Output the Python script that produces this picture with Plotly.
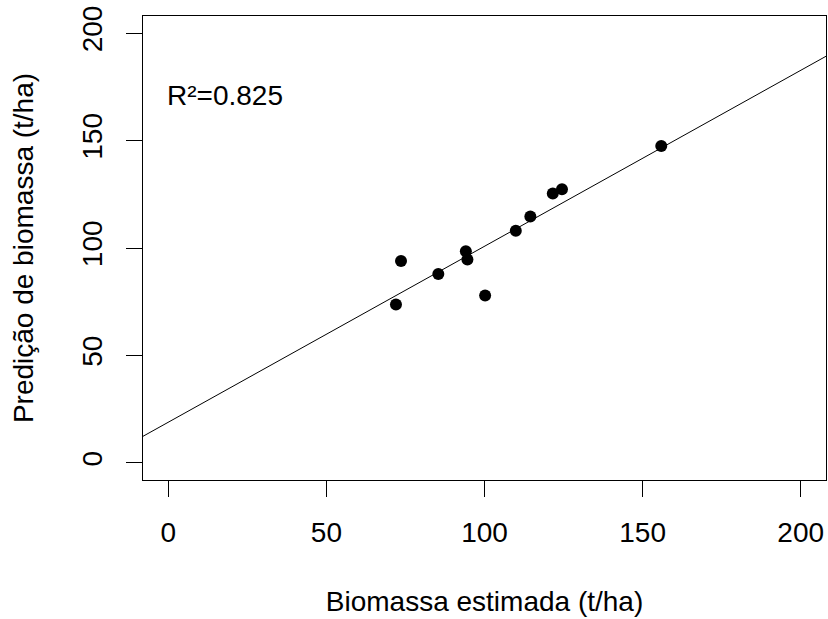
import plotly.graph_objects as go

# Data
biomassa_estimada = [72.0, 73.6, 85.4, 94.1, 94.6, 100.2, 109.9, 114.5, 121.6, 124.5, 155.9]
predicao_biomassa = [73.7, 94.0, 87.9, 98.5, 94.6, 77.9, 108.0, 114.7, 125.4, 127.4, 147.5]

# Regression line coefficients
fit_intercept = 18.9
fit_slope = 0.819
line_x = [-20, 220]
line_y = [fit_intercept + fit_slope * v for v in line_x]

r2_label = "R²=0.825"
tick_vals = [0, 50, 100, 150, 200]
tick_text = ["0", "50", "100", "150", "200"]

FONT = "Liberation Sans, Arial, sans-serif"
FS = 28

fig = go.Figure()
fig.add_trace(go.Scatter(x=line_x, y=line_y, mode="lines",
                         line=dict(color="black", width=1), showlegend=False,
                         hoverinfo="skip"))
fig.add_trace(go.Scatter(x=biomassa_estimada, y=predicao_biomassa, mode="markers",
                         marker=dict(color="black", size=12), showlegend=False))

fig.add_annotation(x=-1, y=171, xref="x", yref="y", text=r2_label, showarrow=False,
                   xanchor="left", yanchor="middle",
                   font=dict(family=FONT, size=FS, color="black"))

axis_common = dict(
    showgrid=False, zeroline=False, showline=True, linecolor="black", linewidth=1,
    mirror=True, ticks="outside", ticklen=16, tickwidth=1, tickcolor="black",
    tickvals=tick_vals, ticktext=tick_text,
    tickfont=dict(family=FONT, size=FS, color="black"),
)

fig.update_xaxes(range=[-8, 208], ticklabelstandoff=11,
                 title=dict(text="Biomassa estimada (t/ha)", standoff=44,
                            font=dict(family=FONT, size=FS, color="black")),
                 **axis_common)
fig.update_yaxes(range=[-8, 208], tickangle=-90, ticklabelstandoff=13,
                 title=dict(text="Predição de biomassa (t/ha)", standoff=34,
                            font=dict(family=FONT, size=FS, color="black")),
                 **axis_common)

fig.update_layout(
    width=828, height=619,
    margin=dict(l=143, r=2, t=16, b=139, autoexpand=False),
    plot_bgcolor="white", paper_bgcolor="white",
    font=dict(family=FONT, size=FS, color="black"),
)

fig.write_html("out.html", config={"displayModeBar": False},
               post_script="document.body.style.margin='0';document.body.style.overflow='hidden';")
